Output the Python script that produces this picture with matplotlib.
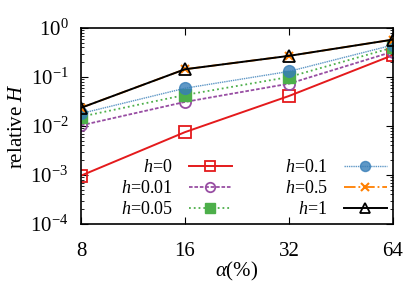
import numpy as np
import matplotlib.pyplot as plt
from matplotlib.ticker import FixedLocator, LogLocator, NullFormatter, NullLocator

plt.rcParams['font.family'] = ['Liberation Serif', 'DejaVu Serif']
plt.rcParams['mathtext.fontset'] = 'custom'
plt.rcParams['mathtext.rm'] = 'Liberation Serif'
plt.rcParams['mathtext.it'] = 'Liberation Serif:italic'

alpha = [8, 16, 32, 64]
h_0 = [0.00097, 0.0075, 0.041, 0.28]
h_001 = [0.0103, 0.031, 0.073, 0.33]
h_005 = [0.0155, 0.043, 0.10, 0.40]
h_01 = [0.018, 0.059, 0.13, 0.45]
h_05 = [0.0235, 0.144, 0.27, 0.58]
h_1 = [0.0235, 0.144, 0.27, 0.58]

fig = plt.figure(figsize=(4.07, 2.85), dpi=100)
ax = fig.add_axes([81/407, 1-224/285, 312/407, 196/285])

ax.plot(alpha, h_0, '-', color='#e41a1c', lw=1.4, marker='s', ms=8, mfc='none', mew=1.3, label='$h$=0')
ax.plot(alpha, h_001, '--', dashes=(2, 1), color='#984ea3', lw=1.3, marker='o', ms=8, mfc='none', mew=1.3, label='$h$=0.01')
ax.plot(alpha, h_005, ':', color='#4daf4a', lw=1.3, marker='s', ms=8, label='$h$=0.05')
ax.plot(alpha, h_01, '--', dashes=(1, 0.6), color='#377eb8', lw=1.0, alpha=0.8, marker='o', ms=8.5, label='$h$=0.1')
ax.plot(alpha, h_05, '-.', color='#ff7f00', lw=1.3, marker='x', ms=6, mew=1.5, label='$h$=0.5')
ax.plot(alpha, h_1, '-', color='black', lw=1.4, marker='^', ms=8, mfc='none', mew=1.3, label='$h$=1')

ax.set_xscale('log', base=2)
ax.set_yscale('log')
ax.set_xlim(8, 64)
ax.set_ylim(1e-4, 1)
ax.xaxis.set_major_locator(FixedLocator(alpha))
ax.set_xticklabels([str(a) for a in alpha])
ax.xaxis.set_minor_locator(NullLocator())
ax.yaxis.set_major_locator(LogLocator(base=10, numticks=10))
ax.yaxis.set_minor_locator(LogLocator(base=10, subs=np.arange(2, 10), numticks=10))
ax.yaxis.set_minor_formatter(NullFormatter())
ax.tick_params(which='both', direction='in', top=True, right=True, labelsize=15)
ax.tick_params(which='major', length=5)
ax.tick_params(which='minor', length=2.5)
ax.tick_params(axis='x', pad=13)
ax.tick_params(axis='y', pad=9)
for s in ax.spines.values():
    s.set_linewidth(1.2)

ax.set_xlabel(r'$\alpha$(%)', fontsize=15, labelpad=-1)
ax.set_ylabel('relative $H$', fontsize=15, labelpad=2)

ax.legend(ncol=2, loc='lower right', bbox_to_anchor=(0.981, 0.03), frameon=False, markerfirst=False,
          fontsize=13, handlelength=2.4, columnspacing=2.9, labelspacing=0.22, handletextpad=0.9,
          borderaxespad=0, borderpad=0, markerscale=0.85)

fig.savefig('out.png', dpi=100)
